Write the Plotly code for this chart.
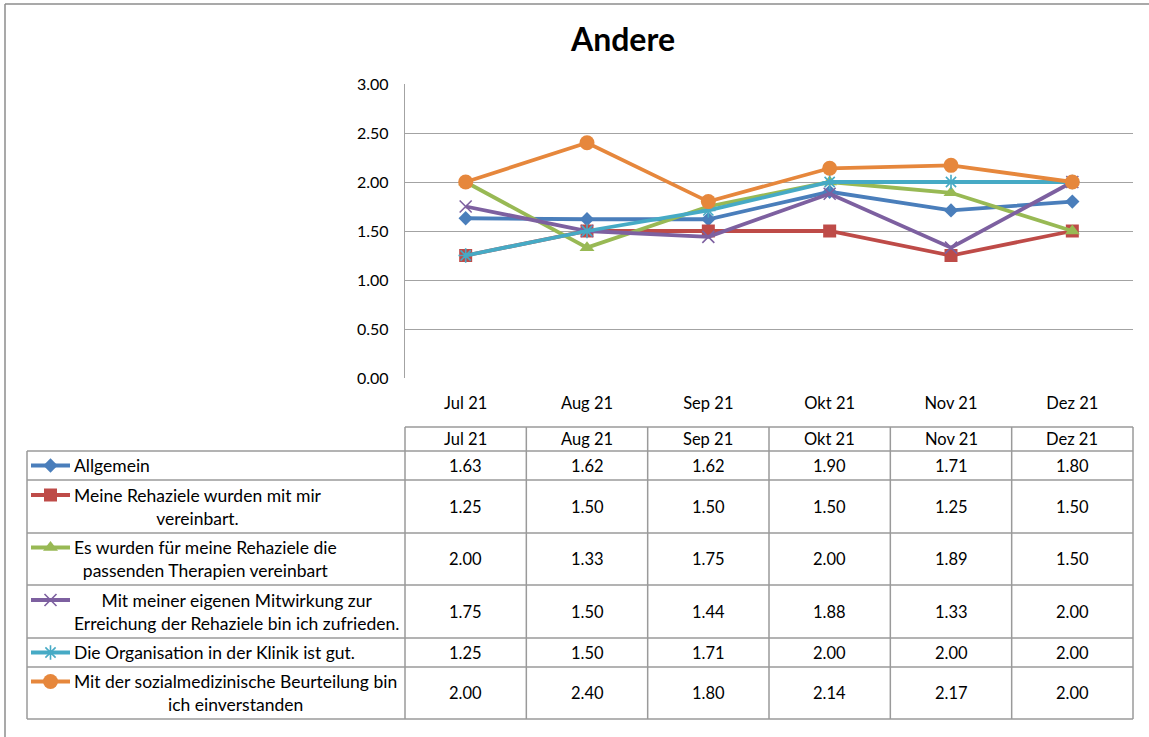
import plotly.graph_objects as go

# ---- data -------------------------------------------------------------
months = ["Jul 21", "Aug 21", "Sep 21", "Okt 21", "Nov 21", "Dez 21"]

series_names = [
    "Allgemein",
    "Meine Rehaziele wurden mit mir<br>vereinbart.",
    "Es wurden für meine Rehaziele die<br>passenden Therapien vereinbart",
    "Mit meiner eigenen Mitwirkung zur<br>Erreichung der Rehaziele bin ich zufrieden.",
    "Die Organisation in der Klinik ist gut.",
    "Mit der sozialmedizinische Beurteilung bin<br>ich einverstanden",
]

allgemein = [1.63, 1.62, 1.62, 1.90, 1.71, 1.80]
rehaziele_vereinbart = [1.25, 1.50, 1.50, 1.50, 1.25, 1.50]
therapien_vereinbart = [2.00, 1.33, 1.75, 2.00, 1.89, 1.50]
mitwirkung = [1.75, 1.50, 1.44, 1.88, 1.33, 2.00]
organisation = [1.25, 1.50, 1.71, 2.00, 2.00, 2.00]
beurteilung = [2.00, 2.40, 1.80, 2.14, 2.17, 2.00]

series_values = [allgemein, rehaziele_vereinbart, therapien_vereinbart,
                 mitwirkung, organisation, beurteilung]

y_ticks = [0, 0.5, 1.0, 1.5, 2.0, 2.5, 3.0]

# ---- styling ------------------------------------------------------------
colors = ["#4A7EBB", "#BE4B48", "#98B954", "#7D60A0", "#46AAC5", "#E6873C"]
symbols = ["diamond", "square", "triangle-up", "x-thin", "asterisk", "circle"]
sizes = [11, 13, 13, 12, 12, 15]

W, H = 1149, 737
PLOT_L, PLOT_R, PLOT_T, PLOT_B = 405, 1133, 84, 378
FONT = "Lato"
GRID = "#A3A3A3"
BORDER = "#9A9A9A"
TXT = "#000000"
LABEL_SIZE = 17.5   # series labels in the table
HEAD_SIZE = 16.5    # month labels
NUM_SIZE = 16.5     # numeric cells
TICK_SIZE = 16      # y ticks

# table geometry (pixels)
col_w = (PLOT_R - PLOT_L) / len(months)
col_edges = [PLOT_L + i * col_w for i in range(len(months) + 1)]
row_edges = [427, 451, 480, 533, 585, 638, 667, 719]
LEG_L = 27
LINE_H = 23


def marker_style(i):
    m = dict(symbol=symbols[i], size=sizes[i], color=colors[i])
    if symbols[i] in ("x-thin", "asterisk"):
        m["line"] = dict(color=colors[i], width=1.6)
    return m


fig = go.Figure()

# chart lines
for i, (name, vals) in enumerate(zip(series_names, series_values)):
    fig.add_trace(go.Scatter(
        x=months, y=vals, mode="lines+markers", name=name,
        line=dict(color=colors[i], width=3.8),
        marker=marker_style(i),
        cliponaxis=False, showlegend=False, hoverinfo="x+y",
        xaxis="x", yaxis="y",
    ))

shapes = []
annotations = []

# outer chart frame (left and top edges)
shapes.append(dict(type="line", xref="x2", yref="y2", x0=5, x1=W + 5, y0=4, y1=4,
                   line=dict(color="#8C8C8C", width=1.5)))
shapes.append(dict(type="line", xref="x2", yref="y2", x0=5, x1=5, y0=4, y1=H + 5,
                   line=dict(color="#8C8C8C", width=1.5)))

# table grid: header row over the month columns
for x in col_edges:
    shapes.append(dict(type="line", xref="x2", yref="y2", x0=x, x1=x,
                       y0=row_edges[0], y1=row_edges[-1],
                       line=dict(color=BORDER, width=1.5)))
shapes.append(dict(type="line", xref="x2", yref="y2", x0=LEG_L, x1=LEG_L,
                   y0=row_edges[1], y1=row_edges[-1], line=dict(color=BORDER, width=1.5)))
shapes.append(dict(type="line", xref="x2", yref="y2", x0=col_edges[0], x1=col_edges[-1],
                   y0=row_edges[0], y1=row_edges[0], line=dict(color=BORDER, width=1.5)))
for y in row_edges[1:]:
    shapes.append(dict(type="line", xref="x2", yref="y2", x0=LEG_L, x1=col_edges[-1],
                       y0=y, y1=y, line=dict(color=BORDER, width=1.5)))

# header labels
for j, m in enumerate(months):
    annotations.append(dict(xref="x2", yref="y2", x=(col_edges[j] + col_edges[j + 1]) / 2,
                            y=(row_edges[0] + row_edges[1]) / 2, text=m, showarrow=False,
                            xanchor="center", yanchor="middle",
                            font=dict(family=FONT, size=HEAD_SIZE, color=TXT)))

# body rows: legend key, series label, values
for i, (name, vals) in enumerate(zip(series_names, series_values)):
    top, bot = row_edges[i + 1], row_edges[i + 2]
    cy = (top + bot) / 2
    n_lines = name.count("<br>") + 1
    key_y = cy - (n_lines - 1) * LINE_H / 2
    fig.add_trace(go.Scatter(
        x=[31, 70], y=[key_y, key_y], mode="lines",
        line=dict(color=colors[i], width=3.8), showlegend=False, hoverinfo="skip",
        xaxis="x2", yaxis="y2", cliponaxis=False,
    ))
    fig.add_trace(go.Scatter(
        x=[50.5], y=[key_y], mode="markers", marker=marker_style(i),
        showlegend=False, hoverinfo="skip", xaxis="x2", yaxis="y2", cliponaxis=False,
    ))
    annotations.append(dict(xref="x2", yref="y2", x=72, y=cy, text=name, showarrow=False,
                            xanchor="left", yanchor="middle", align="center",
                            font=dict(family=FONT, size=LABEL_SIZE, color=TXT)))
    for j, v in enumerate(vals):
        annotations.append(dict(xref="x2", yref="y2", x=(col_edges[j] + col_edges[j + 1]) / 2,
                                y=cy, text=f"{v:.2f}", showarrow=False,
                                xanchor="center", yanchor="middle",
                                font=dict(family=FONT, size=NUM_SIZE, color=TXT)))

fig.update_layout(
    template="none",
    width=W, height=H, autosize=False,
    margin=dict(l=0, r=0, t=0, b=0, pad=0, autoexpand=False),
    paper_bgcolor="white", plot_bgcolor="rgba(0,0,0,0)",
    showlegend=False,
    title=dict(text="<b>Andere</b>", x=623 / W, y=1 - 40 / H, xanchor="center",
               yanchor="middle", xref="paper", yref="paper",
               font=dict(family=FONT, size=32, color=TXT)),
    font=dict(family=FONT, color=TXT),
    xaxis=dict(domain=[PLOT_L / W, PLOT_R / W], type="category", range=[-0.5, 5.5],
               showgrid=False, showline=False, zeroline=False, automargin=False,
               ticks="outside", ticklen=10, tickcolor="rgba(0,0,0,0)",
               tickfont=dict(family=FONT, size=HEAD_SIZE, color=TXT), anchor="y",
               fixedrange=True),
    yaxis=dict(domain=[1 - PLOT_B / H, 1 - PLOT_T / H], range=[0, 3],
               tickvals=y_ticks, tickformat=".2f", automargin=False,
               showgrid=True, gridcolor=GRID, gridwidth=1.3,
               showline=True, linecolor=GRID, linewidth=1.3, zeroline=False,
               ticks="outside", ticklen=12, tickcolor="rgba(0,0,0,0)",
               tickfont=dict(family=FONT, size=TICK_SIZE, color=TXT), anchor="x",
               fixedrange=True),
    xaxis2=dict(domain=[0, 1], range=[0, W], visible=False, anchor="y2",
                automargin=False, fixedrange=True),
    yaxis2=dict(domain=[0, 1], range=[H, 0], visible=False, anchor="x2",
                automargin=False, fixedrange=True),
    shapes=shapes,
    annotations=annotations,
)

fig.write_html("out.html")
